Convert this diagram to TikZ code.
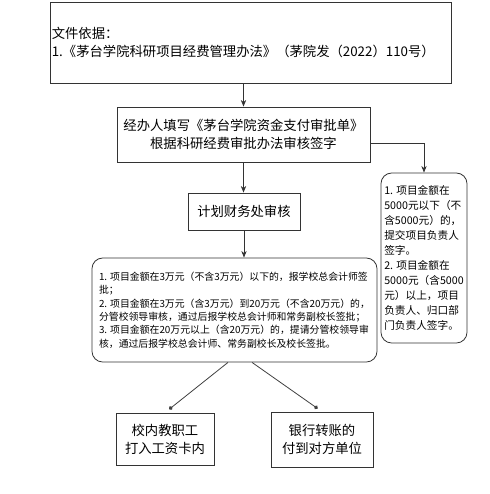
\documentclass[tikz,border=0pt]{standalone}
\usepackage{fontspec}
\newfontfamily\cjk{Noto Sans CJK SC}
\usetikzlibrary{arrows.meta,calc}

\tikzset{
  box/.style={draw=black!80,line width=0.6pt,rectangle,inner sep=0.75pt,align=center,font=\cjk\fontsize{10}{13.5}\selectfont},
  roundbox/.style={box,rounded corners=8pt,align=left},
  flow/.style={draw=black!80,line width=0.6pt,-{Stealth[length=5pt,width=4pt]}},
  dotline/.style={draw=black!75,line width=0.6pt,-{Circle[length=3pt]},shorten >=4pt}
}

\begin{document}
\begin{tikzpicture}[x=0.75pt,y=0.75pt,yscale=-1,xscale=1]
\useasboundingbox (0,0) rectangle (490,494);

% Text Node
\draw (250.5,42.5) node [box,minimum width=300.75pt,minimum height=60.75pt,text width=298pt,align=left] (basis) {文件依据：\\1.《茅台学院科研项目经费管理办法》（茅院发（2022）110号）};
% Text Node
\draw (243.5,134.5) node [box,minimum width=189.75pt,minimum height=41.25pt] (apply) {经办人填写《茅台学院资金支付审批单》\\根据科研经费审批办法审核签字};
% Text Node
\draw (244,211.5) node [box,minimum width=84pt,minimum height=27.75pt] (finance) {计划财务处审核};
% Text Node
\draw (234.5,310) node [roundbox,minimum width=213.75pt,minimum height=78pt,font=\cjk\fontsize{7.4}{10}\selectfont] (rules) {1. 项目金额在3万元（不含3万元）以下的，报学校总会计师签\\批；\\2. 项目金额在3万元（含3万元）到20万元（不含20万元）的，\\分管校领导审核，通过后报学校总会计师和常务副校长签批；\\3. 项目金额在20万元以上（含20万元）的，提请分管校领导审\\核，通过后报学校总会计师、常务副校长及校长签批。};
% Text Node
\draw (424,258) node [roundbox,minimum width=64.5pt,minimum height=127.5pt,font=\cjk\fontsize{8}{11.2}\selectfont] (small) {1. 项目金额在\\5000元以下（不\\含5000元）的，\\提交项目负责人\\签字。\\2. 项目金额在\\5000元（含5000\\元）以上，项目\\负责人、归口部\\门负责人签字。};
% Text Node
\draw (165,439) node [box,minimum width=73.5pt,minimum height=39pt] (staff) {校内教职工\\打入工资卡内};
% Text Node
\draw (322,439.5) node [box,minimum width=76.5pt,minimum height=41.25pt] (bank) {银行转账的\\付到对方单位};

%Straight Lines
\draw [flow] (apply.north |- basis.south) -- (apply.north);
\draw [flow] (apply.south) -- (apply.south |- finance.north);
\draw [flow] (finance.south) -- (finance.south |- rules.north);
\draw [flow] ($(apply.east)+(0,8.5)$) -| (small.north);
\draw [dotline] ($(rules.south)+(-6.5,0)$) -- (staff.north);
\draw [dotline] ($(rules.south)+(17.5,0)$) -- (bank.north);

\end{tikzpicture}
\end{document}
